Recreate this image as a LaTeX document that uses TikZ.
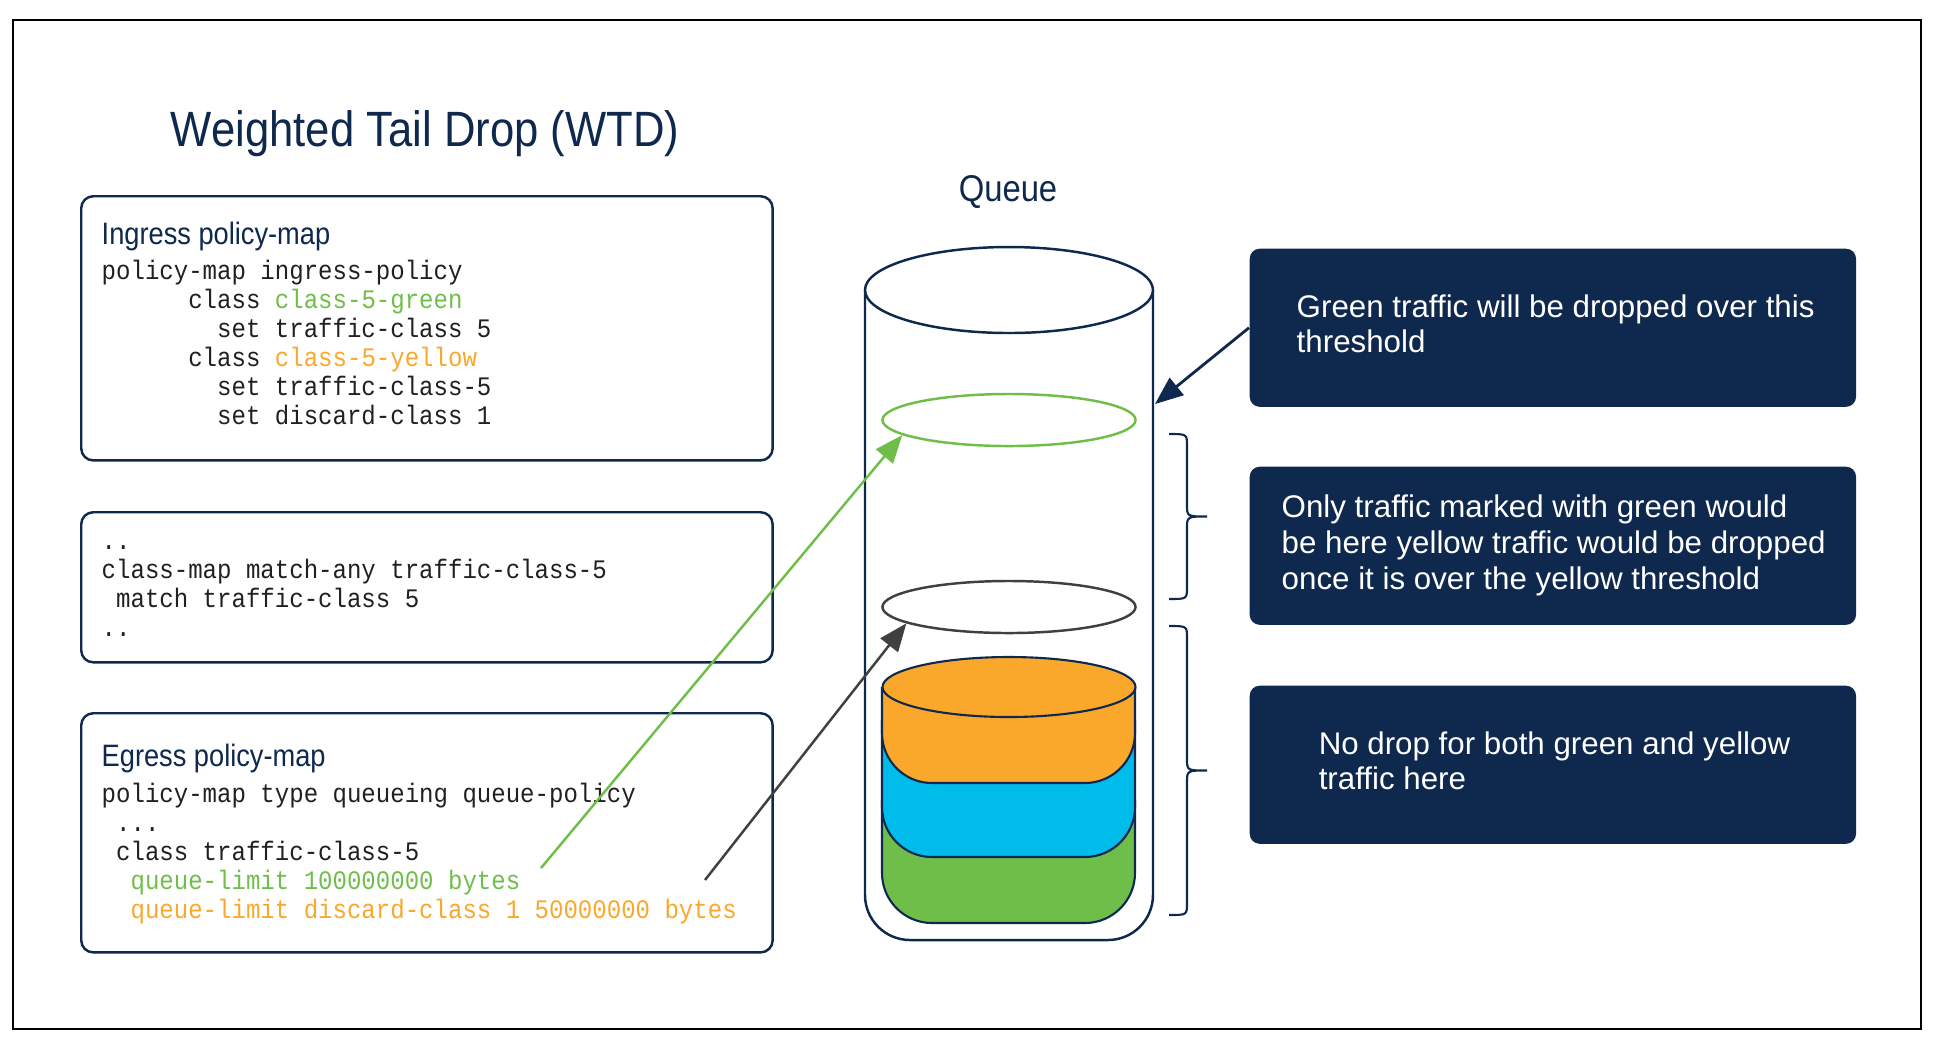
\documentclass[tikz,border=0pt]{standalone}
\usepackage{fontspec}
\setmainfont{Liberation Sans}
\setmonofont{Liberation Mono}
\newfontfamily\headfont[FakeStretch=0.88]{Liberation Sans}
\newfontfamily\codefont[FakeStretch=0.9]{Liberation Mono}
\usetikzlibrary{arrows.meta,shapes.geometric,positioning}
\definecolor{cnavy}{RGB}{15,40,77}
\definecolor{cgreen}{RGB}{112,190,74}
\definecolor{corange}{RGB}{250,168,44}
\definecolor{cblue}{RGB}{0,188,235}
\definecolor{cgray}{RGB}{64,64,64}
\definecolor{ctext}{RGB}{35,31,32}
% indent by n characters of the mono font
\newcommand{\pad}[1]{\hspace*{#1\fontcharwd\font`x}}

\begin{document}
\begin{tikzpicture}[x=0.01cm,y=-0.01cm,
  >={Triangle[length=0.28cm,width=0.22cm]},
  codebox/.style={draw=cnavy,line width=0.7pt,rounded corners=0.12cm,anchor=north west,inner sep=0pt},
  heading/.style={font=\headfont\fontsize{8.8}{10}\selectfont,text=cnavy,anchor=base west,inner sep=0pt},
  code/.style={font=\codefont\fontsize{7.6}{8.25}\selectfont,text=ctext,align=left,anchor=north west,inner sep=0pt},
  callout/.style={fill=cnavy,rounded corners=0.1cm,anchor=north west,minimum width=6.06cm,minimum height=1.58cm,inner sep=0pt},
  calltext/.style={font=\fontsize{8.9}{10.2}\selectfont,text=white,align=left,anchor=west,inner sep=0pt},
  thr/.style={ellipse,minimum width=2.53cm,minimum height=0.52cm,inner sep=0pt,line width=0.7pt},
  layer/.style={draw=cnavy,line width=0.6pt,rounded corners=0.5cm},
  bracket/.style={cnavy,line width=0.6pt},
]
\useasboundingbox (0,0) rectangle (1935,1050);
\draw[line width=0.6pt] (13,20) rectangle (1921,1029);

\node[font=\headfont\fontsize{14.1}{16}\selectfont,text=cnavy] (title) at (425,134) {Weighted Tail Drop (WTD)};

% ============================ config boxes ============================
\node[codebox,minimum width=6.91cm,minimum height=2.64cm] (ingress) at (80,195) {};
\node[heading] (inghead) at (101,244) {Ingress policy-map};
\node[code] (ingcode) at (101,258) {\strut policy-map ingress-policy\\
  \pad{6}class {\color{cgreen}class-5-green}\\
  \pad{8}set traffic-class 5\\
  \pad{6}class {\color{corange}class-5-yellow}\\
  \pad{8}set traffic-class-5\\
  \pad{8}set discard-class 1};

\node[codebox,minimum width=6.91cm,minimum height=1.50cm] (classmap) at (80,511) {};
\node[code] (cmcode) at (101,528) {\strut..\\
  class-map match-any traffic-class-5\\
  \pad{1}match traffic-class 5\\
  ..};

\node[codebox,minimum width=6.91cm,minimum height=2.39cm] (egress) at (80,712) {};
\node[heading] (egrhead) at (101,766) {Egress policy-map};
\node[code] (egrcode) at (101,781) {\strut policy-map type queueing queue-policy\\
  \pad{1}...\\
  \pad{1}class traffic-class-5\\
  \pad{2}{\color{cgreen}queue-limit 100000000 bytes}\\
  \pad{2}{\color{corange}queue-limit discard-class 1 50000000 bytes}};

% ============================ queue ============================
\node[font=\headfont\fontsize{10.6}{12}\selectfont,text=cnavy] (queuelbl) at (1008,192) {Queue};
\draw[cnavy,line width=0.7pt,rounded corners=0.45cm] (865,290) -- (865,940) -- (1153,940) -- (1153,290);
\draw[cnavy,line width=0.7pt,fill=white] (1009,290) ellipse [x radius=144,y radius=43];

% thresholds
\node[thr,draw=cgreen] (grnthr) at (1009,420) {};
\node[thr,draw=cgray] (ylwthr) at (1009,607) {};

% stacked traffic
\filldraw[layer,fill=cgreen] (882,800) -- (882,923) -- (1135,923) -- (1135,800);
\filldraw[layer,fill=cblue] (882,720) -- (882,857) -- (1135,857) -- (1135,720);
\filldraw[layer,fill=corange] (882,687) -- (882,783) -- (1135,783) -- (1135,687);
\filldraw[cnavy,line width=0.6pt,fill=corange] (1009,687) ellipse [x radius=126.5,y radius=30];

% zone braces
\foreach \ya/\yb in {434/599,626/915}{
  \pgfmathsetmacro{\ym}{(\ya+\yb)/2}
  \draw[bracket] (1169,\ya) .. controls (1187,\ya) .. (1187,\ya+12) -- (1187,\ym-12)
    .. controls (1187,\ym) .. (1207,\ym) .. controls (1187,\ym) .. (1187,\ym+12)
    -- (1187,\yb-12) .. controls (1187,\yb) .. (1169,\yb);
}

% ============================ callouts ============================
\node[callout] (greenbox) at (1249,248) {};
\node[calltext] (greentxt) at ([xshift=0.47cm,yshift=0.04cm]greenbox.west) {Green traffic will be dropped over this\\threshold};
\node[callout] (onlybox) at (1249,466) {};
\node[calltext] (onlytxt) at ([xshift=0.32cm]onlybox.west) {Only traffic marked with green would\\be here yellow traffic would be dropped\\once it is over the yellow threshold};
\node[callout] (nodropbox) at (1249,685) {};
\node[calltext] (nodroptxt) at ([xshift=0.69cm,yshift=0.04cm]nodropbox.west) {No drop for both green and yellow\\traffic here};

% arrows
\coordinate (cylhit) at (1155,404);
\coordinate (gfrom) at (541,868);
\coordinate (yfrom) at (705,880);
\draw[->,cnavy,line width=0.8pt] (greenbox.west) -- (cylhit);
\draw[->,cgreen,line width=0.7pt] (gfrom) -- (grnthr.188);
\draw[->,cgray,line width=0.7pt] (yfrom) -- (ylwthr.189);

\end{tikzpicture}
\end{document}
